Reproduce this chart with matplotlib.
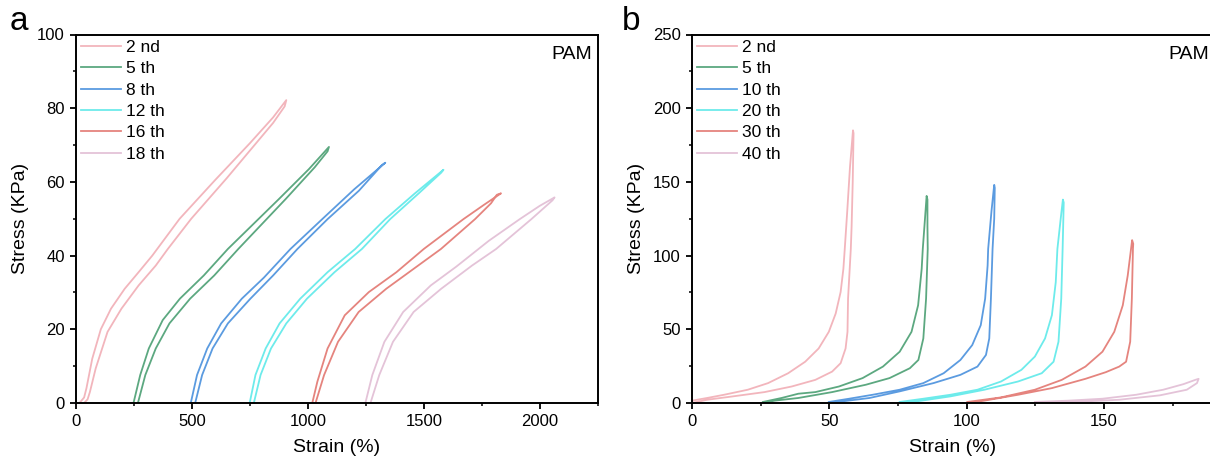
import matplotlib
matplotlib.use("Agg")
import matplotlib.pyplot as plt
from matplotlib.ticker import MultipleLocator

plt.rcParams['font.family'] = ['Liberation Sans', 'DejaVu Sans']

# colours for the six cycles (same order in both panels)
colors = ['#F2B5BC', '#5CA880', '#5B9BE0', '#6DEBEB', '#E5847E', '#E4C3D8']
labels_a = ['2 nd', '5 th', '8 th', '12 th', '16 th', '18 th']
labels_b = ['2 nd', '5 th', '10 th', '20 th', '30 th', '40 th']

# ---- panel a: each loop traced up the loading branch and back down the unloading one
a2_strain = [15, 35, 45, 70, 107, 151, 210, 270, 329, 447, 600, 750, 850, 907,
             900, 850, 750, 650, 497, 396, 344, 270, 196, 136, 85, 60, 50, 35]
a2_stress = [0, 1.5, 4, 12, 20, 25.6, 31, 35.5, 40, 50, 60.5, 70.5, 77.5, 82.2,
             80.5, 76, 68.5, 61, 50, 41.8, 37.3, 31.9, 25.6, 19.3, 9.4, 3, 1, 0]

a5_strain = [248, 277, 314, 374, 448, 551, 655, 876, 1005, 1091,
             1085, 1030, 905, 700, 596, 492, 403, 344, 299, 267]
a5_stress = [0, 7.6, 14.8, 22.5, 28.3, 34.6, 41.8, 55.4, 63.5, 69.5,
             68.3, 64, 55.4, 41.8, 34.6, 28.3, 21.6, 14.8, 7.6, 0]

a8_strain = [495, 522, 566, 626, 715, 810, 925, 1062, 1200, 1334,
             1320, 1220, 1085, 955, 850, 752, 655, 589, 544, 514]
a8_stress = [0, 7.6, 14.8, 21.6, 28.3, 34, 41.8, 49.9, 58, 65.2,
             64.6, 57.6, 49.9, 41.8, 34.6, 28.3, 21.6, 14.8, 7.6, 0]

a12_strain = [749, 774, 818, 878, 967, 1085, 1204, 1334, 1460, 1585,
              1575, 1480, 1355, 1233, 1115, 996, 907, 841, 796, 767]
a12_stress = [0, 7.6, 14.8, 21.6, 28.3, 35.5, 41.8, 49.9, 56.8, 63.3,
              62.5, 57, 49.9, 41.8, 35.5, 28.3, 21.6, 14.8, 7.6, 0]

a16_strain = [1019, 1041, 1085, 1159, 1263, 1382, 1500, 1671, 1760, 1833,
              1815, 1790, 1721, 1574, 1456, 1338, 1219, 1130, 1070, 1033]
a16_stress = [0, 5.8, 14.8, 23.8, 30.1, 35.5, 41.8, 49.9, 53.8, 56.9,
              56.5, 54.2, 49.9, 41.8, 36.4, 31, 24.7, 16.6, 7.6, 0]

a18_strain = [1248, 1278, 1330, 1411, 1530, 1640, 1780, 1914, 2000, 2064,
              2055, 2030, 1964, 1812, 1708, 1575, 1456, 1367, 1308, 1270]
a18_stress = [0, 7.6, 16.6, 24.7, 31.9, 37, 44, 49.9, 53.5, 55.8,
              55, 53.6, 49.9, 41.8, 37.3, 31, 24.7, 16.6, 7.6, 0]

# ---- panel b
b2_strain = [0, 5.5, 11.7, 20.3, 27.7, 35, 41.2, 46.1, 49.8, 52.3, 54.1, 55.1, 55.6,
             56.5, 57.5, 58.6,
             58.8, 58.5, 58.1, 57.8, 56.8, 56.6, 55.9, 54.1, 51, 44.9, 36.3, 26.4,
             14.1, 5.5, 0]
b2_stress = [1.6, 3.4, 5.6, 9, 13.5, 20.2, 28, 37, 48.3, 60.7, 75.3, 91, 104.5,
             130, 160, 185,
             183, 150, 120, 104.5, 70.8, 48.3, 37, 27, 21.3, 15.7, 11.2, 7.4,
             4.3, 2.2, 0]

b5_strain = [25.8, 32.6, 38.7, 44.9, 53.5, 62.1, 69.5, 75.6, 79.9, 82.3, 83.6, 84,
             84.8, 85.4,
             85.7, 85.7, 85.8, 85.2, 84.2, 82.4, 79.3, 71.9, 63.3, 51, 38.7, 30.1, 25.8]
b5_stress = [0.7, 3.4, 6.3, 7.4, 11.2, 16.9, 24.7, 34.8, 48.3, 66.3, 91, 104.5,
             125, 140.5,
             138, 120, 104.5, 70.8, 43.8, 29.2, 23.6, 16.9, 12.4, 7.4, 3.4, 1.6, 0]

b10_strain = [49.8, 57.2, 65.8, 75.6, 84.2, 91.6, 97.7, 102, 105.1, 106.7, 107.6, 107.8,
              109, 110,
              110.2, 110, 109.4, 108.8, 108.2, 107, 103.9, 97.7, 87.9, 75.6, 64.6, 54.7, 50.4]
b10_stress = [0.7, 2.9, 5.6, 9, 13.5, 20.2, 29.2, 39.3, 52.8, 70.8, 93.3, 104.5,
              130, 148,
              146, 125, 104.5, 70.8, 43.8, 32.6, 24.7, 19.1, 13.5, 7.9, 3.4, 1.1, 0]

b20_strain = [75.6, 84.2, 94.1, 103.9, 112.5, 119.9, 124.8, 128.5, 131, 132.4, 133,
              134.2, 135,
              135.3, 135.1, 134.9, 134.4, 133.4, 131.6, 127.3, 118.7, 106.4, 94.1, 81.8, 75.6]
b20_stress = [0.7, 2.9, 5.6, 9, 14.6, 22.5, 31.5, 43.8, 59.6, 82, 104.5,
              125, 138,
              136, 120, 104.5, 70.8, 41.6, 28, 20.2, 14.6, 9, 4.5, 1.1, 0]

b30_strain = [100.2, 112.5, 124.8, 134.6, 143.2, 149.4, 153.7, 156.8, 158.6, 159.8, 160.2,
              160.6, 160.5, 160.1, 159.5, 158, 155.5, 150.6, 143.2, 131, 118.7, 106.4, 100.8]
b30_stress = [0.7, 3.8, 9, 15.7, 24.7, 34.8, 48.3, 66.3, 86.5, 104.5, 110.5,
              108, 104.5, 70.8, 41.6, 28, 24.7, 20.9, 16.4, 10.1, 5.6, 1.6, 0]

b40_strain = [124.8, 137.1, 149.4, 161.7, 171.5, 178.9, 183.2, 184.4,
              183.8, 180.1, 170.3, 155.5, 143.2, 131]
b40_stress = [0.7, 1.6, 2.9, 5.6, 9, 12.8, 15.7, 16.4,
              13.5, 9, 5.2, 2.2, 1.1, 0]

loops_a = [(a2_strain, a2_stress), (a5_strain, a5_stress), (a8_strain, a8_stress),
           (a12_strain, a12_stress), (a16_strain, a16_stress), (a18_strain, a18_stress)]
loops_b = [(b2_strain, b2_stress), (b5_strain, b5_stress), (b10_strain, b10_stress),
           (b20_strain, b20_stress), (b30_strain, b30_stress), (b40_strain, b40_stress)]

W, H = 1210, 466
fig = plt.figure(figsize=(W / 100, H / 100), dpi=100)
bottom = 1 - 403 / H
height = (403 - 34.5) / H
ax1 = fig.add_axes([76 / W, bottom, 521.7 / W, height])
ax2 = fig.add_axes([692 / W, bottom, 522 / W, height])


def style(ax, xmax, xmaj, ymax, ymaj, labels, loops):
    for (x, y), c, lab in zip(loops, colors, labels):
        ax.plot(x, y, color=c, lw=1.3, label=lab)
    ax.set_xlim(0, xmax)
    ax.set_ylim(0, ymax)
    ax.xaxis.set_major_locator(MultipleLocator(xmaj))
    ax.xaxis.set_minor_locator(MultipleLocator(xmaj / 2))
    ax.yaxis.set_major_locator(MultipleLocator(ymaj))
    ax.yaxis.set_minor_locator(MultipleLocator(ymaj / 2))
    ax.tick_params(which='major', direction='out', length=4.5, width=1.3,
                   labelsize=12, top=False, right=False)
    ax.tick_params(which='minor', direction='out', length=2.5, width=1.1,
                   top=False, right=False)
    for s in ax.spines.values():
        s.set_linewidth(1.4)
    ax.set_xlabel('Strain (%)', fontsize=14, labelpad=7)
    ax.set_ylabel('Stress (KPa)', fontsize=14, labelpad=6)
    ax.text(0.99, 0.97, 'PAM', transform=ax.transAxes, ha='right', va='top', fontsize=14)
    ax.legend(loc='upper left', frameon=False, fontsize=12.5, handlelength=2.3,
              handletextpad=0.3, labelspacing=0.36, borderaxespad=0.15,
              borderpad=0.15)


style(ax1, 2250, 500, 100, 20, labels_a, loops_a)
style(ax2, 190, 50, 250, 50, labels_b, loops_b)

fig.text(10 / W, 1 - 21 / H, 'a', fontsize=24, va='center')
fig.text(622 / W, 1 - 21 / H, 'b', fontsize=24, va='center')

fig.savefig('out.png', dpi=100)
